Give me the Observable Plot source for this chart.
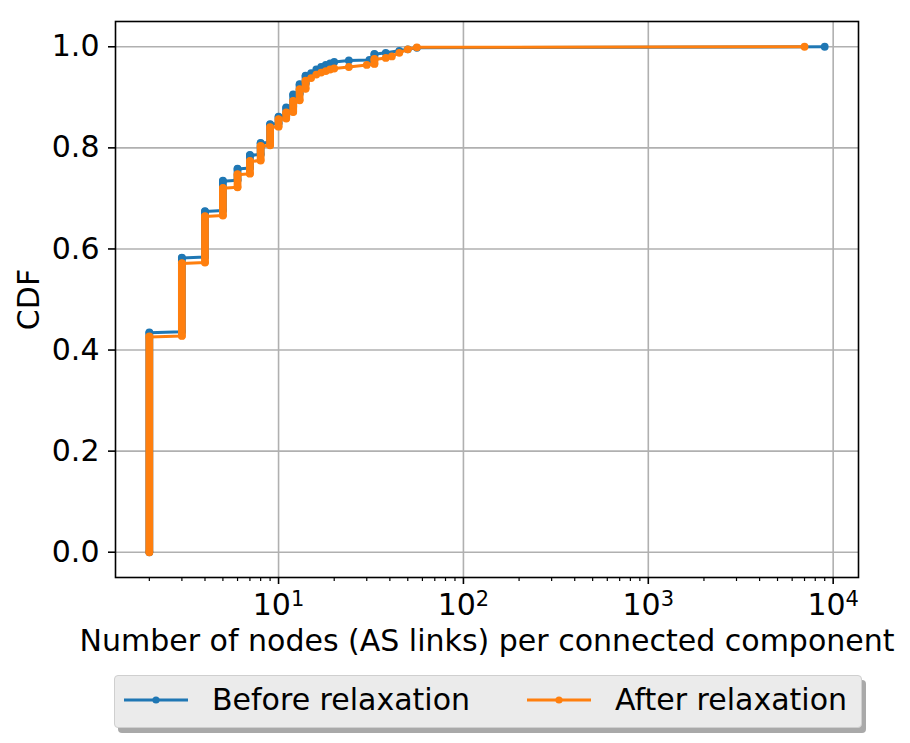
<!DOCTYPE html>
<html>
<head>
<meta charset="utf-8">
<script src="https://cdn.jsdelivr.net/npm/d3@7"></script>
<script src="https://cdn.jsdelivr.net/npm/@observablehq/plot@0.6"></script>
<style>
  html, body { margin: 0; padding: 0; background: white; }
  #wrap { position: relative; width: 910px; height: 743px; font-family: "DejaVu Sans", sans-serif; }
  #legend { position: absolute; left: 114px; top: 675px; width: 748px; height: 53px;
            background: #ebebeb; border: 1px solid #cfcfcf; border-radius: 4px;
            box-shadow: 4px 5px 0 #a9a9a9; box-sizing: border-box; }
  .sw { position: absolute; top: 16px; width: 64px; height: 16px; }
  .lt { position: absolute; top: 5px; font-size: 30px; line-height: 38px; color: black; white-space: nowrap; }
</style>
</head>
<body>
<div id="wrap">
  <div id="chart"></div>
  <div id="legend"></div>
</div>
<script>
// ---- data ----
const seriesNames = ["Before relaxation", "After relaxation"];
const seriesColors = ["#1f77b4", "#ff7f0e"];

// distinct component sizes and the CDF reached at each size
const sizesBefore = [2, 3, 4, 5, 6, 7, 8, 9, 10, 11, 12, 13, 14, 15, 16, 17, 18, 19, 20, 24, 31, 33, 38, 45, 50, 56, 9000];
const cdfBefore   = [0.434, 0.582, 0.674, 0.734, 0.758, 0.785, 0.809, 0.846, 0.861, 0.879, 0.905, 0.925, 0.942, 0.948, 0.955, 0.960, 0.964, 0.967, 0.970, 0.973, 0.974, 0.985, 0.988, 0.992, 0.995, 0.998, 1.0];

const sizesAfter = [2, 3, 4, 5, 6, 7, 8, 9, 10, 11, 12, 13, 14, 15, 16, 17, 18, 19, 20, 24, 30, 33, 38, 41, 45, 50, 56, 7000];
const cdfAfter   = [0.426, 0.571, 0.664, 0.720, 0.747, 0.773, 0.803, 0.840, 0.856, 0.869, 0.892, 0.915, 0.932, 0.938, 0.945, 0.949, 0.952, 0.955, 0.957, 0.960, 0.964, 0.975, 0.978, 0.981, 0.988, 0.995, 0.999, 1.0];

const xMajorTicks = [10, 100, 1000, 10000];
const xMinorTicks = [2,3,4,5,6,7,8,9, 20,30,40,50,60,70,80,90, 200,300,400,500,600,700,800,900, 2000,3000,4000,5000,6000,7000,8000,9000];
const yTicks = [0, 0.2, 0.4, 0.6, 0.8, 1.0];
const xLabel = "Number of nodes (AS links) per connected component";
const yLabel = "CDF";

// ---- build point lists: a vertical run at each size (stacked points), then on to the next size ----
function build(sizes, cdf) {
  const pts = [], runs = [];
  let prev = 0;
  sizes.forEach((s, i) => {
    const jump = cdf[i] - prev;
    if (i === 0 || jump > 0.008) {
      pts.push({x: s, y: i === 0 ? prev : prev + 0.002});
      runs.push({x: s, y1: i === 0 ? prev : prev + 0.002, y2: cdf[i]});
    }
    pts.push({x: s, y: cdf[i]});
    prev = cdf[i];
  });
  return {pts, runs};
}
const before = build(sizesBefore, cdfBefore);
const after = build(sizesAfter, cdfAfter);

const W = 910, H = 668;
const plotTop = 21, plotBottom = 577;
const FS = 30;

function seriesMarks(d, color) {
  return [
    Plot.line(d.pts, {x: "x", y: "y", stroke: color, strokeWidth: 3}),
    Plot.ruleX(d.runs, {x: "x", y1: "y1", y2: "y2", stroke: color, strokeWidth: 7.8, strokeLinecap: "round"}),
    Plot.dot(d.pts, {x: "x", y: "y", r: 3.9, fill: color, stroke: "none"})
  ];
}

const chart = Plot.plot({
  width: W,
  height: H,
  marginLeft: 115,
  marginRight: 52,
  marginTop: plotTop,
  marginBottom: H - plotBottom,
  style: {fontFamily: "DejaVu Sans", fontSize: FS + "px", color: "black", background: "white", overflow: "visible"},
  x: {type: "log", domain: [Math.pow(10, 0.118), Math.pow(10, 4.137)], label: null},
  y: {domain: [-0.05, 1.05], label: null},
  marks: [
    Plot.gridX(xMajorTicks, {stroke: "#b0b0b0", strokeOpacity: 1, strokeWidth: 1.6}),
    Plot.gridY(yTicks, {stroke: "#b0b0b0", strokeOpacity: 1, strokeWidth: 1.6}),
    ...seriesMarks(before, seriesColors[0]),
    ...seriesMarks(after, seriesColors[1]),
    Plot.frame({stroke: "black", strokeWidth: 1.6}),
    Plot.axisX(xMinorTicks, {tickSize: 4, strokeWidth: 1.2, tickFormat: () => "", label: null}),
    Plot.axisX(xMajorTicks, {tickSize: 7, tickPadding: 9, strokeWidth: 1.6, fontSize: FS, label: null,
      tickFormat: d => "10^" + Math.round(Math.log10(d)), className: "xmajor"}),
    Plot.axisY(yTicks, {tickSize: 7, tickPadding: 9, strokeWidth: 1.6, fontSize: FS, label: null,
      tickFormat: d => d.toFixed(1)}),
    Plot.text([xLabel], {frameAnchor: "bottom", dy: 64, text: d => d, fontSize: FS, textAnchor: "middle", lineAnchor: "middle"}),
    Plot.text([yLabel], {frameAnchor: "left", dx: -86, rotate: -90, text: d => d, fontSize: FS, textAnchor: "middle", lineAnchor: "middle"})
  ]
});
document.getElementById("chart").appendChild(chart);

// render "10^n" tick labels as 10 with a raised, smaller exponent (like matplotlib mathtext)
d3.select(chart).selectAll("text").each(function() {
  const el = d3.select(this);
  const s = el.text();
  const m = /^10\^(\d+)$/.exec(s);
  if (m) {
    el.text(null);
    el.append("tspan").text("10");
    el.append("tspan").attr("dy", "-0.42em").attr("font-size", "0.7em").text(m[1]);
  }
});

// ---- legend ----
const legend = document.getElementById("legend");
const swX = [9, 412], txtX = [97, 500];
seriesNames.forEach((name, i) => {
  const sw = document.createElementNS("http://www.w3.org/2000/svg", "svg");
  sw.setAttribute("class", "sw");
  sw.setAttribute("width", 64); sw.setAttribute("height", 16);
  sw.style.left = swX[i] + "px";
  sw.innerHTML = `<line x1="0" y1="8" x2="64" y2="8" stroke="${seriesColors[i]}" stroke-width="3"/>` +
                 `<circle cx="32" cy="8" r="3.6" fill="${seriesColors[i]}"/>`;
  legend.appendChild(sw);
  const t = document.createElement("div");
  t.className = "lt";
  t.style.left = txtX[i] + "px";
  t.textContent = name;
  legend.appendChild(t);
});
</script>
</body>
</html>
